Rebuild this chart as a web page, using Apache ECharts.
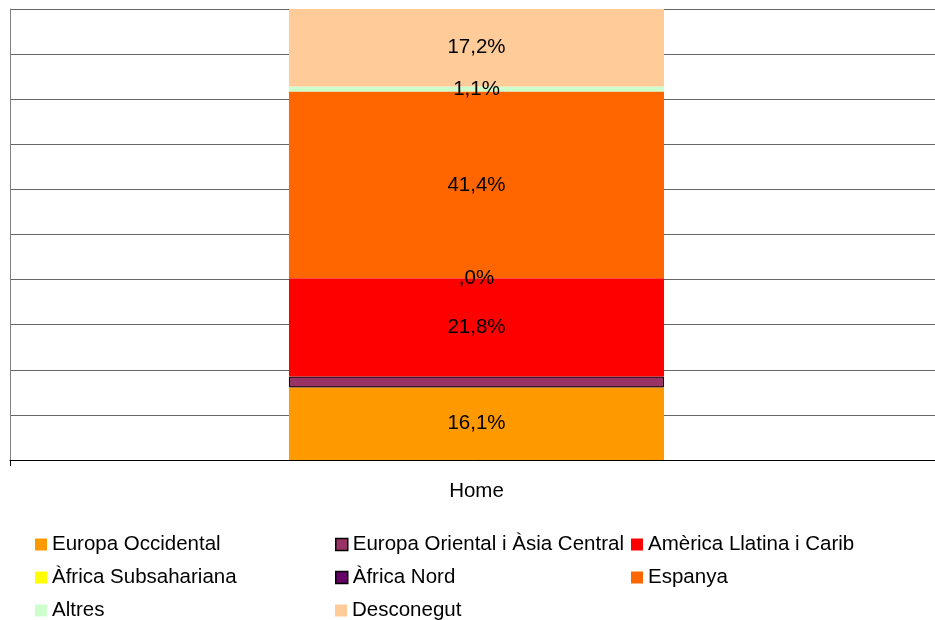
<!DOCTYPE html>
<html>
<head>
<meta charset="utf-8">
<script src="https://cdn.jsdelivr.net/npm/echarts@6/dist/echarts.min.js"></script>
<style>
html,body{margin:0;padding:0;background:#fff;}
#chart{width:935px;height:620px;}
</style>
</head>
<body>
<div id="chart"></div>
<script>
const categories = ['Home'];
const seriesNames = ['Europa Occidental','Europa Oriental i Àsia Central','Amèrica Llatina i Carib','Àfrica Subsahariana','Àfrica Nord','Espanya','Altres','Desconegut'];
const seriesColors = ['#FF9900','#993366','#FF0000','#FFFF00','#660066','#FF6600','#CCFFCC','#FFCC99'];
const europaOccidental = [16.1];
const europaOriental = [2.4];
const americaLlatina = [21.8];
const africaSubsahariana = [0];
const africaNord = [0];
const espanya = [41.4];
const altres = [1.1];
const desconegut = [17.2];
const seriesValues = [europaOccidental, europaOriental, americaLlatina, africaSubsahariana, africaNord, espanya, altres, desconegut];
const showLabel = [true, false, true, true, false, true, true, true];
const barBordered = [false, true, false, false, false, false, false, false];
const legendBordered = [false, true, false, false, true, false, false, false];

const FONT = 'Liberation Sans, Arial, sans-serif';
const FS = 20.5;
function fmt(v){
  if (v === 0) return ',0%';
  return v.toFixed(1).replace('.', ',') + '%';
}

const series = seriesNames.map((n, i) => ({
  name: n,
  type: 'bar',
  stack: 'total',
  barWidth: '40.2%',
  data: seriesValues[i],
  itemStyle: barBordered[i] ? {color: seriesColors[i], borderColor: '#000', borderWidth: 1} : {color: seriesColors[i], borderWidth: 0},
  label: {
    show: showLabel[i],
    position: 'inside',
    color: '#000',
    fontFamily: FONT,
    fontSize: FS,
    formatter: p => fmt(p.value)
  },
  emphasis: {disabled: true}
}));

// legend grid: 3 columns x 3 rows (row-major order of series)
const legendCols = [35, 335, 631];
const legendRows = [544, 577, 610];
const legends = seriesNames.map((n, i) => ({
  orient: 'horizontal',
  left: legendCols[i % 3],
  top: legendRows[Math.floor(i / 3)] - 10,
  padding: 0,
  icon: 'rect',
  itemWidth: 12,
  itemHeight: 12,
  itemStyle: legendBordered[i]
    ? {color: seriesColors[i], borderColor: '#000', borderWidth: 1.5}
    : {color: seriesColors[i], borderWidth: 0},
  textStyle: {fontFamily: FONT, fontSize: FS, color: '#000', lineHeight: 20},
  data: [n]
}));

const chart = echarts.init(document.getElementById('chart'), null, {renderer: 'canvas'});
chart.setOption({
  animation: false,
  backgroundColor: '#fff',
  grid: {left: 10, top: 9, width: 933, height: 451, outerBoundsMode: 'none', containLabel: false},
  xAxis: {
    type: 'category',
    data: categories,
    axisLine: {lineStyle: {color: '#000', width: 1}},
    axisTick: {show: true, length: 6, lineStyle: {color: '#000'}},
    axisLabel: {fontFamily: FONT, fontSize: FS, color: '#000', margin: 21}
  },
  yAxis: {
    type: 'value',
    min: 0,
    max: 100,
    interval: 10,
    axisLine: {show: true, lineStyle: {color: '#808080'}},
    axisTick: {show: false},
    axisLabel: {show: false},
    splitLine: {lineStyle: {color: '#666', width: 1}}
  },
  legend: legends,
  series: series
});
</script>
</body>
</html>
